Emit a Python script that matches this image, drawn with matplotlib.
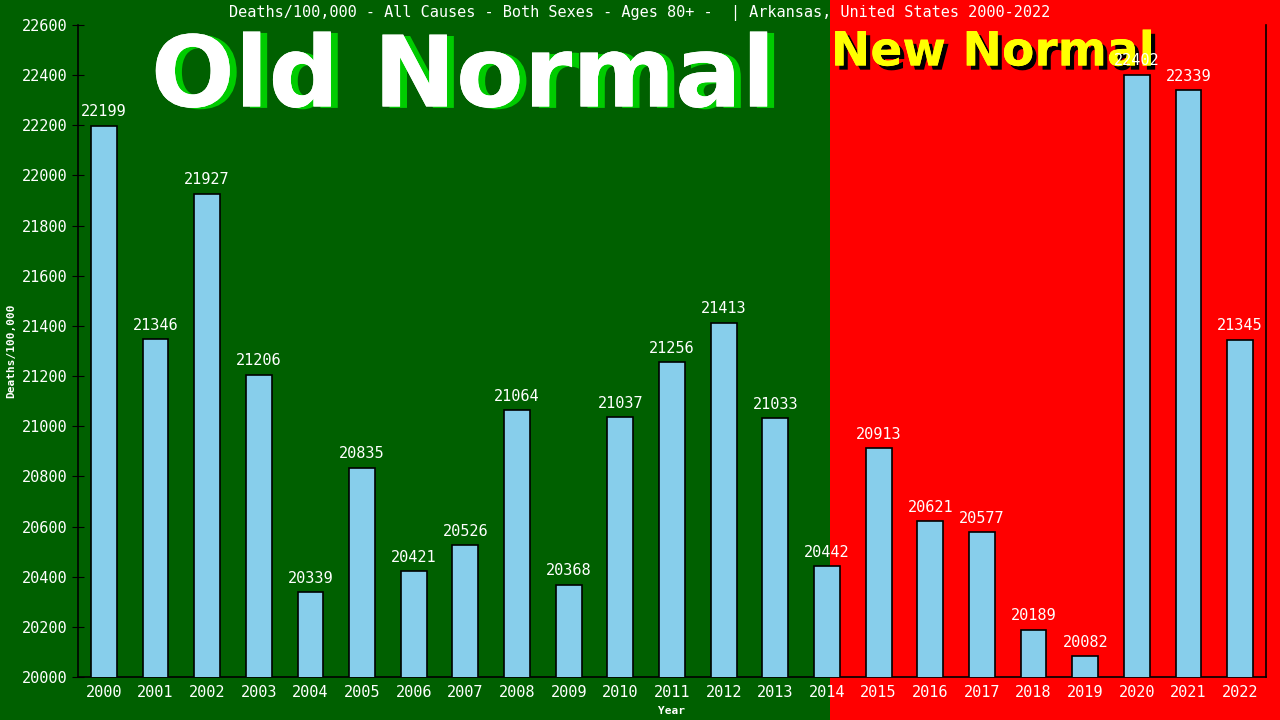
import numpy as np
import matplotlib.pyplot as plt
import matplotlib.patheffects as pe
from matplotlib.patches import Rectangle

# Datos
years = list(range(2000, 2023))
deaths = [22199, 21346, 21927, 21206, 20339, 20835, 20421, 20526, 21064, 20368,
          21037, 21256, 21413, 21033, 20442, 20913, 20621, 20577, 20189, 20082,
          22402, 22339, 21345]
title = "Deaths/100,000 - All Causes - Both Sexes - Ages 80+ -  | Arkansas, United States 2000-2022"

mono = "DejaVu Sans Mono"

fig = plt.figure(figsize=(12.8, 7.2), dpi=100)
fig.patch.set_facecolor("#006000")
# fondo rojo a la derecha (New Normal)
fig.patches.append(Rectangle((830 / 1280, 0), 1 - 830 / 1280, 1, transform=fig.transFigure,
                             facecolor="#ff0000", edgecolor="none", zorder=-1))

ax = fig.add_axes([78 / 1280, 43 / 720, 1188 / 1280, 652 / 720])
ax.set_facecolor("none")
ax.set_zorder(2)

x = np.arange(len(years))
ax.bar(x, deaths, width=0.5, color="#87ceeb", edgecolor="black", linewidth=1.2, zorder=3)
for xi, v in zip(x, deaths):
    ax.text(xi, v + 25, str(v), ha="center", va="bottom", color="white",
            fontsize=11, family=mono, zorder=4)

ax.set_xlim(-0.5, 22.5)
ax.set_ylim(20000, 22600)
ax.set_yticks(np.arange(20000, 22601, 200))
ax.set_xticks(x)
ax.set_xticklabels([str(y) for y in years])
ax.tick_params(axis="y", colors="black", direction="inout", length=8, labelcolor="white",
               labelsize=11)
ax.tick_params(axis="x", length=0, labelcolor="white", labelsize=11, pad=6)
for lab in ax.get_xticklabels() + ax.get_yticklabels():
    lab.set_family(mono)

ax.spines["top"].set_visible(False)
for s in ["left", "bottom", "right"]:
    ax.spines[s].set_color("black")
    ax.spines[s].set_linewidth(1.2)

ax.set_xlabel("Year", color="white", fontsize=8, family=mono, fontweight="bold", labelpad=4)
ax.set_ylabel("Deaths/100,000", color="white", fontsize=8, family=mono, fontweight="bold",
              labelpad=4)

fig.text(0.5, 1 - 13 / 720, title, ha="center", va="center", color="white",
         fontsize=11, family=mono)

fig.text(463 / 1280, 1 - 79 / 720, "Old Normal", ha="center", va="center", color="white",
         fontsize=71, fontweight="bold", zorder=1,
         path_effects=[pe.withSimplePatchShadow(offset=(5, -1), shadow_rgbFace="#00cc00", alpha=1),
                       pe.Normal()])
fig.text(993 / 1280, 1 - 53 / 720, "New Normal", ha="center", va="center", color="#ffff00",
         fontsize=34, fontweight="bold", zorder=1,
         path_effects=[pe.withSimplePatchShadow(offset=(3, -3), shadow_rgbFace="black", alpha=1),
                       pe.Normal()])

plt.savefig("out.png", dpi=100, facecolor=fig.get_facecolor())
